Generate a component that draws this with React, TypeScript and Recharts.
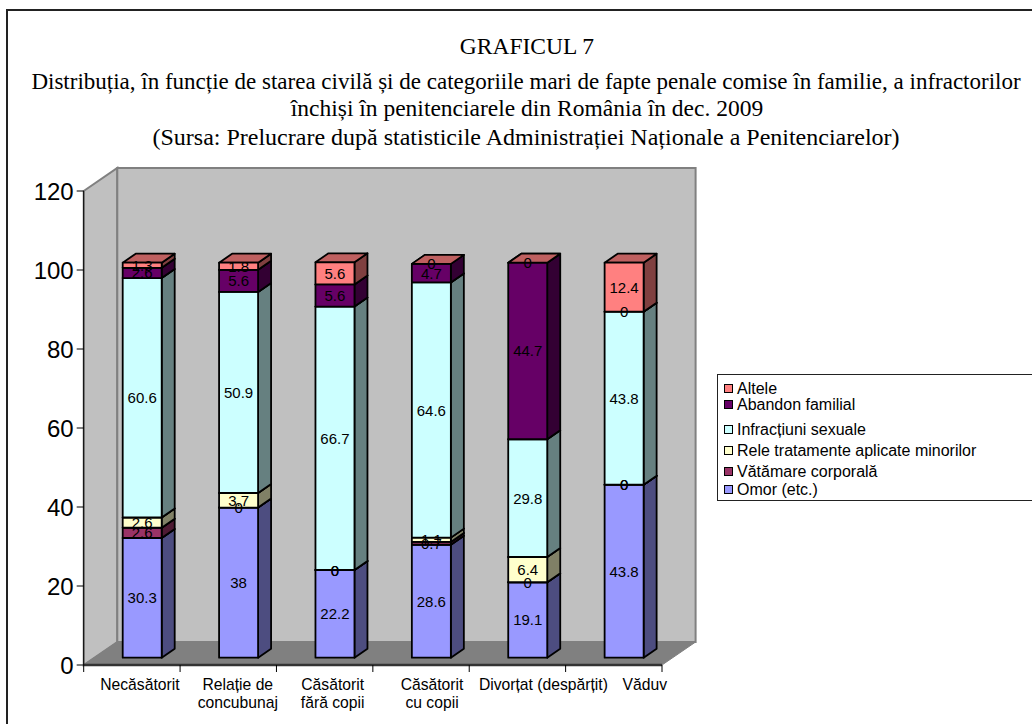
import React from "react";
import { BarChart, Bar, XAxis, YAxis, CartesianGrid, ReferenceArea, LabelList, Legend } from "recharts";

const categoryLines = [["Necăsătorit"], ["Relație de", "concubunaj"], ["Căsătorit", "fără copii"], ["Căsătorit", "cu copii"], ["Divorțat (despărțit)"], ["Văduv"]];
const omor = [30.3, 38, 22.2, 28.6, 19.1, 43.8];
const vatamare = [2.6, 0, 0, 0.7, 0, 0];
const rele = [2.6, 3.7, 0, 1.1, 6.4, 0];
const infractiuni = [60.6, 50.9, 66.7, 64.6, 29.8, 43.8];
const abandon = [2.6, 5.6, 5.6, 4.7, 44.7, 0];
const altele = [1.3, 1.8, 5.6, 0, 0, 12.4];
const yTicks = [0, 20, 40, 60, 80, 100, 120];
const tickShift = [0, 1.5, 0, 3, 18, 23];
const legendRowY = [14, 30, 55, 76, 97, 115];

const series = [
  { key: "omor", name: "Omor (etc.)", values: omor, fill: "#9999FF", side: "#4D4D80", top: "#7373BF" },
  { key: "vatamare", name: "Vătămare corporală", values: vatamare, fill: "#993366", side: "#4D1A33", top: "#73264D" },
  { key: "rele", name: "Rele tratamente aplicate minorilor", values: rele, fill: "#FFFFCC", side: "#808066", top: "#BFBF99" },
  { key: "infractiuni", name: "Infracțiuni sexuale", values: infractiuni, fill: "#CCFFFF", side: "#668080", top: "#99BFBF" },
  { key: "abandon", name: "Abandon familial", values: abandon, fill: "#660066", side: "#330033", top: "#4D004D" },
  { key: "altele", name: "Altele", values: altele, fill: "#FF8080", side: "#804040", top: "#BF6060" },
];

const chartData = categoryLines.map((lines, i) => {
  const row: Record<string, unknown> = { category: lines.join(" ") };
  series.forEach((s) => { row[s.key] = s.values[i]; });
  return row;
});

const WIDTH = 1032, HEIGHT = 724;
const PLOT_L = 83.7, PLOT_R = 662, PLOT_T = 191, PLOT_B = 665;
const BAND = (PLOT_R - PLOT_L) / categoryLines.length;
const WALL_DX = 33.6, WALL_DY = -23;
const BAR_OX = 10, BAR_OY = -7.3;
const BAR_DX = 13, BAR_DY = -9;
const SANS = "'Liberation Sans', Arial, sans-serif";
const SERIF = "'Liberation Serif', 'Times New Roman', serif";

const pts = (a: number[][]) => a.map((p) => p.join(",")).join(" ");

const Walls = (p: any) => {
  const { x, y, width, height } = p;
  const b = y + height, r = x + width;
  return (
    <g>
      <polygon points={pts([[x, y], [x + WALL_DX, y + WALL_DY], [x + WALL_DX, b + WALL_DY], [x, b]])} fill="#C0C0C0" stroke="#808080" strokeWidth={2} />
      <polygon points={pts([[x + WALL_DX, y + WALL_DY], [r + WALL_DX, y + WALL_DY], [r + WALL_DX, b + WALL_DY], [x + WALL_DX, b + WALL_DY]])} fill="#C0C0C0" stroke="#808080" strokeWidth={2} />
      <polygon points={pts([[x, b], [r, b], [r + WALL_DX, b + WALL_DY], [x + WALL_DX, b + WALL_DY]])} fill="#808080" stroke="#808080" strokeWidth={1} />
    </g>
  );
};

const GridLine = (p: any) => {
  const { x1, x2, y1, index } = p;
  if (y1 < PLOT_T + 1 || y1 > PLOT_B - 1) return <g key={index} />;
  return (
    <g key={index}>
      <line x1={x1} y1={y1} x2={x1 + WALL_DX} y2={y1 + WALL_DY} stroke="#000" strokeWidth={1} />
      <line x1={x1 + WALL_DX} y1={y1 + WALL_DY} x2={x2 + WALL_DX} y2={y1 + WALL_DY} stroke="#000" strokeWidth={1} />
    </g>
  );
};

const makeShape = (s: (typeof series)[number]) => (p: any) => {
  const x = p.x + BAR_OX, y = p.y + BAR_OY, w = p.width, h = p.height;
  const line = { stroke: "#000", strokeWidth: 1.8, strokeLinejoin: "round" as const };
  return (
    <g>
      {h > 0 && <polygon points={pts([[x + w, y], [x + w + BAR_DX, y + BAR_DY], [x + w + BAR_DX, y + h + BAR_DY], [x + w, y + h]])} fill={s.side} {...line} />}
      <polygon points={pts([[x, y], [x + BAR_DX, y + BAR_DY], [x + w + BAR_DX, y + BAR_DY], [x + w, y]])} fill={s.top} {...line} />
      {h > 0 && <rect x={x} y={y} width={w} height={h} fill={s.fill} {...line} />}
    </g>
  );
};

const DataLabel = (p: any) => (
  <text x={p.x + p.width / 2 + BAR_OX} y={p.y + p.height / 2 + BAR_OY} textAnchor="middle" dominantBaseline="central" fontFamily={SANS} fontSize={15} fill="#000">
    {p.value}
  </text>
);

const XTick = (p: any) => {
  const { x, index } = p;
  const lines = categoryLines[index] || [];
  const tx = x + BAR_OX - 2 + tickShift[index];
  return (
    <g>
      {index === 0 && <line x1={x - BAND / 2} y1={PLOT_B} x2={x - BAND / 2} y2={PLOT_B + 7} stroke="#000" />}
      <line x1={x + BAND / 2} y1={PLOT_B} x2={x + BAND / 2} y2={PLOT_B + 7} stroke="#000" />
      <text textAnchor="middle" fontFamily={SANS} fontSize={15.7} fill="#000">
        {lines.map((l, i) => (
          <tspan key={i} x={tx} y={PLOT_B + 24.5 + i * 18.7}>{l}</tspan>
        ))}
      </text>
    </g>
  );
};

const LegendBox = (p: any) => {
  const items = [...(p.payload || [])].reverse();
  return (
    <div style={{ position: "relative", width: 400, height: 127, border: "1.5px solid #222", boxSizing: "border-box", background: "#fff", fontFamily: SANS, fontSize: 16, color: "#000" }}>
      {items.map((it: any, i: number) => (
        <div key={it.value} style={{ position: "absolute", left: 6, top: legendRowY[i] - 9, height: 18, lineHeight: "18px", whiteSpace: "nowrap" }}>
          <span style={{ display: "inline-block", width: 7, height: 7, background: it.color, border: "1px solid #000", marginRight: 4, verticalAlign: "1px" }} />
          {it.value}
        </div>
      ))}
    </div>
  );
};

const titleLines = [
  { text: "GRAFICUL 7", cx: 527, y: 46, size: 23.5 },
  { text: "Distribuția, în funcție de starea civilă și de categoriile mari de fapte penale comise în familie, a infractorilor", cx: 526, y: 82, size: 23 },
  { text: "închiși în penitenciarele din România în dec. 2009", cx: 527, y: 108, size: 23.5 },
  { text: "(Sursa: Prelucrare după statisticile Administrației Naționale a Penitenciarelor)", cx: 526, y: 137, size: 24 },
];

export default function App() {
  return (
    <div style={{ position: "fixed", left: 0, top: 0, width: WIDTH, height: HEIGHT, overflow: "hidden", background: "#fff" }}>
      <div style={{ position: "absolute", left: 6, top: 9, width: WIDTH, height: HEIGHT, borderLeft: "2px solid #222", borderTop: "2px solid #222" }} />
      {titleLines.map((t) => (
        <div key={t.text} style={{ position: "absolute", left: t.cx - 600, width: 1200, top: t.y - 14, height: 28, lineHeight: "28px", textAlign: "center", fontFamily: SERIF, fontSize: t.size, color: "#000", whiteSpace: "nowrap" }}>{t.text}</div>
      ))}
      <div style={{ position: "absolute", left: 0, top: 0 }}>
        <BarChart width={WIDTH} height={HEIGHT} data={chartData} barSize={39} margin={{ top: PLOT_T, right: WIDTH - PLOT_R, bottom: 0, left: 3.7 }}>
          <ReferenceArea y1={0} y2={120} shape={Walls} ifOverflow="visible" />
          <CartesianGrid vertical={false} horizontal={GridLine} horizontalValues={yTicks} />
          <XAxis dataKey="category" interval={0} height={HEIGHT - PLOT_B} tickLine={false} axisLine={{ stroke: "#333", strokeWidth: 2.5 }} tick={XTick} />
          <YAxis width={80} domain={[0, 120]} ticks={yTicks} tickSize={7} tickMargin={3} axisLine={{ stroke: "#000" }} tickLine={{ stroke: "#000" }} tick={{ fontFamily: SANS, fontSize: 24, fill: "#000" }} />
          {series.map((s) => (
            <Bar key={s.key} dataKey={s.key} name={s.name} stackId="a" fill={s.fill} isAnimationActive={false} shape={makeShape(s)}>
              <LabelList dataKey={s.key} content={DataLabel} />
            </Bar>
          ))}
          <Legend layout="vertical" verticalAlign="middle" align="center" itemSorter={null} content={LegendBox} wrapperStyle={{ position: "absolute", left: 717, top: 374, width: 400, height: 127 }} />
        </BarChart>
      </div>
    </div>
  );
}
